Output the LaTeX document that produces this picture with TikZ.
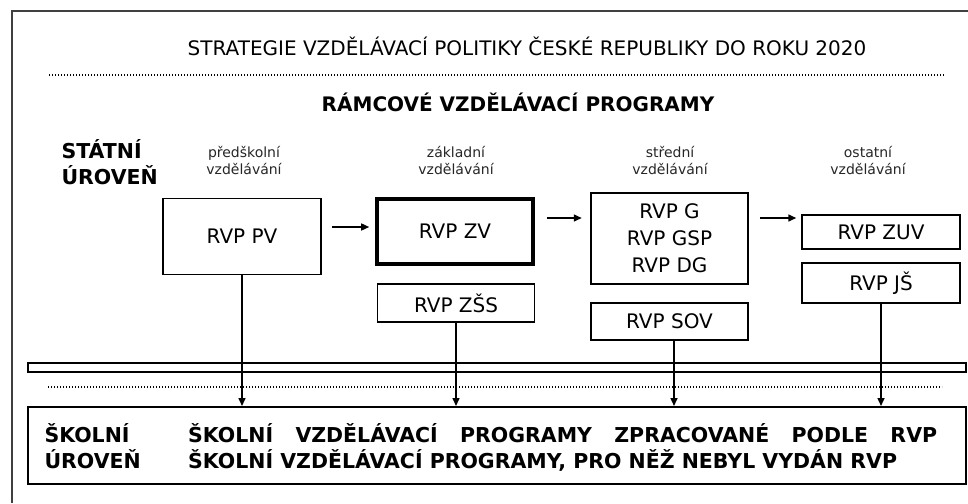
\documentclass[tikz,border=0pt]{standalone}
\usepackage{fontspec}
\setmainfont{DejaVu Sans}
\usetikzlibrary{arrows.meta,calc}
\begin{document}
\begin{tikzpicture}[x=1pt,y=-1pt,
  frame/.style={draw=black!75,line width=2pt},
  rvpbox/.style={draw,line width=1.5pt,inner sep=0pt,align=center,
    font=\fontsize{20}{27}\selectfont},
  thickbox/.style={rvpbox,line width=3.6pt},
  colhead/.style={anchor=base,font=\fontsize{14}{17}\selectfont,text=black!85},
  bigbold/.style={anchor=base west,font=\bfseries\fontsize{20.5}{26}\selectfont},
  dotline/.style={line width=1.4pt,dash pattern=on 1.2pt off 1.8pt},
  arr/.style={line width=1.5pt,-{Triangle[length=8pt,width=7pt]}}
]
\useasboundingbox (0,0) rectangle (968,503);
\draw[frame] (12,503) -- (12,11) -- (968,11);

% headings
\node[anchor=base,font=\fontsize{20}{24}\selectfont] (title) at (527,56)
  {STRATEGIE VZDĚLÁVACÍ POLITIKY ČESKÉ REPUBLIKY DO ROKU 2020};
\draw[dotline] (49,75) -- (944,75);
\node[anchor=base,font=\bfseries\fontsize{20}{24}\selectfont] (rvp) at (518,111)
  {RÁMCOVÉ VZDĚLÁVACÍ PROGRAMY};

\node[bigbold] (st1) at (58,158) {STÁTNÍ};
\node[bigbold] (st2) at (58,184) {ÚROVEŇ};

\node[colhead] (h1a) at (244,157) {předškolní};
\node[colhead] (h1b) at (244,174) {vzdělávání};
\node[colhead] (h2a) at (456,157) {základní};
\node[colhead] (h2b) at (456,174) {vzdělávání};
\node[colhead] (h3a) at (670,157) {střední};
\node[colhead] (h3b) at (670,174) {vzdělávání};
\node[colhead] (h4a) at (868,157) {ostatní};
\node[colhead] (h4b) at (868,174) {vzdělávání};

% boxes
\node[rvpbox,minimum width=158pt,minimum height=76pt] (pv) at (242,236.5) {\raisebox{-8pt}{RVP PV}};
\node[thickbox,minimum width=156pt,minimum height=65pt] (zv) at (455,231.5) {RVP ZV};
\node[rvpbox,minimum width=157pt,minimum height=38pt] (zss) at (456,303) {RVP ZŠS};
\node[rvpbox,minimum width=157pt,minimum height=91pt] (g) at (669.5,238.5) {RVP G\\RVP GSP\\RVP DG};
\node[rvpbox,minimum width=157pt,minimum height=37pt] (sov) at (669.5,321.5) {RVP SOV};
\node[rvpbox,minimum width=158pt,minimum height=34pt] (zuv) at (881,232) {RVP ZUV};
\node[rvpbox,minimum width=158pt,minimum height=40pt] (js) at (881,283) {RVP JŠ};

% separator bar, dotted line, bottom box
\node[draw,line width=1.4pt,minimum width=938pt,minimum height=9pt,inner sep=0pt] (bar) at (497,367.5) {};
\draw[dotline] (48,387) -- (942,387);
\node[draw,line width=2pt,minimum width=938pt,minimum height=77pt,inner sep=0pt] (bot) at (497,445.5) {};

\node[bigbold] (sk1) at (41,442) {ŠKOLNÍ};
\node[bigbold] (sk2) at (41,468) {ÚROVEŇ};
\node[bigbold,inner sep=0pt] (r1) at (188,442)
  {\makebox[749pt][s]{ŠKOLNÍ VZDĚLÁVACÍ PROGRAMY ZPRACOVANÉ PODLE RVP}};
\node[bigbold,inner sep=0pt] (r2) at (188,468)
  {ŠKOLNÍ VZDĚLÁVACÍ PROGRAMY, PRO NĚŽ NEBYL VYDÁN RVP};

% horizontal arrows
\draw[arr] ($(pv.east)+(10,-9.5)$) -- ($(zv.west)+(-6,-4.5)$);
\draw[arr] ($(zv.east)+(12,-13.5)$) -- ($(g.west)+(-8.5,-20.5)$);
\draw[arr] ($(g.east)+(11,-20.5)$) -- ($(zuv.west)+(-5,-14)$);

% vertical arrows
\draw[arr] (pv.south) -- (pv.south |- bot.north);
\draw[arr] (zss.south) -- (zss.south |- bot.north);
\draw[arr] ($(sov.south)+(4.5,0)$) -- ($(sov.south |- bot.north)+(4.5,0)$);
\draw[arr] (js.south) -- (js.south |- bot.north);
\end{tikzpicture}
\end{document}
